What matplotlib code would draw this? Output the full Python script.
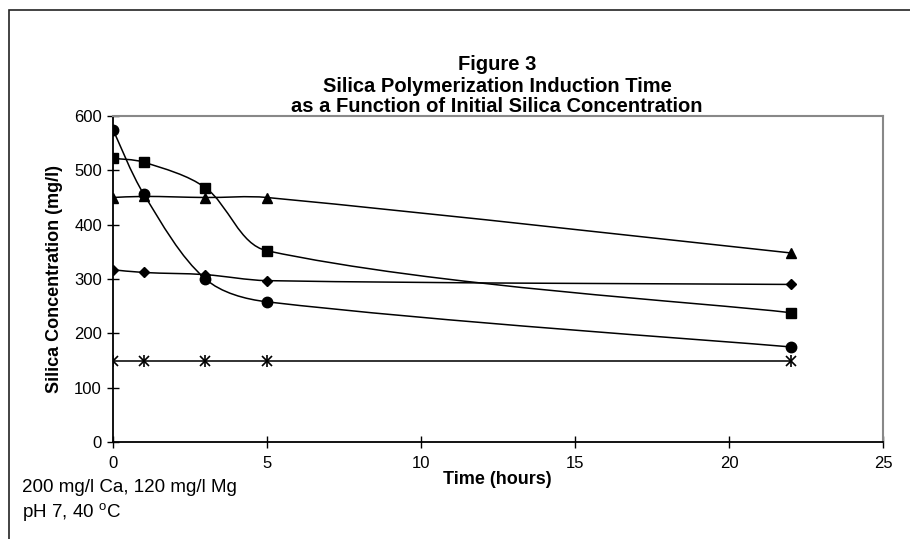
import numpy as np
import matplotlib.pyplot as plt
from matplotlib.path import Path
from matplotlib.patches import PathPatch, Rectangle

plt.rcParams['font.family'] = ['Liberation Sans', 'DejaVu Sans']

# --- data ---
time_h = [0, 1, 3, 5, 22]
conc_circle = [575, 456, 300, 258, 175]
conc_square = [522, 515, 468, 352, 238]
conc_triangle = [450, 452, 450, 450, 348]
conc_diamond = [317, 312, 308, 297, 290]
conc_star = [150, 150, 150, 150, 150]

x_ticks = [0, 5, 10, 15, 20, 25]
y_ticks = [0, 100, 200, 300, 400, 500, 600]

title_lines = ['Figure 3',
               'Silica Polymerization Induction Time',
               'as a Function of Initial Silica Concentration']

W, H = 910, 539
left, right, top, bottom = 113, 883, 116, 442
# pixels per data unit, used so the smoothing works in screen space like Excel
SX = (right - left) / 25.0
SY = (bottom - top) / 600.0


def smooth_path(x, y):
    # smoothed line: cubic beziers, arm lengths scaled by neighbouring segment lengths
    p = np.column_stack([np.asarray(x) * SX, np.asarray(y) * SY]).astype(float)
    n = len(p)
    seg = np.hypot(*np.diff(p, axis=0).T)
    verts = [p[0]]
    codes = [Path.MOVETO]
    for i in range(n - 1):
        # control point leaving p[i]
        if i == 0:
            t = p[1] - p[0]
            c1 = p[0] + t / 6.0
        else:
            t = p[i + 1] - p[i - 1]
            arm = seg[i] / (seg[i - 1] + seg[i]) * np.hypot(*t) / 3.0
            c1 = p[i] + t / np.hypot(*t) * arm
        # control point arriving at p[i+1]
        if i + 1 == n - 1:
            t = p[i + 1] - p[i]
            c2 = p[i + 1] - t / 6.0
        else:
            t = p[i + 2] - p[i]
            arm = seg[i] / (seg[i] + seg[i + 1]) * np.hypot(*t) / 3.0
            c2 = p[i + 1] - t / np.hypot(*t) * arm
        verts += [c1, c2, p[i + 1]]
        codes += [Path.CURVE4] * 3
    verts = np.array(verts) / [SX, SY]
    return Path(verts, codes)


fig = plt.figure(figsize=(W / 100, H / 100), dpi=100)

# outer chart border
fig.patches.append(Rectangle((9 / W, -0.01), 1.0, 1 - 10 / H + 0.01,
                             transform=fig.transFigure, fill=False,
                             edgecolor='#222222', linewidth=1.2))

ax = fig.add_axes([left / W, 1 - bottom / H, (right - left) / W, (bottom - top) / H])

series = [
    (conc_circle, 'o', 7.5),
    (conc_square, 's', 7),
    (conc_triangle, '^', 7.5),
    (conc_diamond, 'D', 5.5),
]
for vals, mk, ms in series:
    ax.add_patch(PathPatch(smooth_path(time_h, vals), fill=False,
                           edgecolor='black', linewidth=1.1, zorder=2))
    ax.plot(time_h, vals, linestyle='none', marker=mk, markersize=ms,
            color='black', zorder=3)

ax.plot(time_h, conc_star, color='#222222', linewidth=1.3, zorder=2)
ax.plot(time_h, conc_star, linestyle='none', marker='x', markersize=7,
        markeredgewidth=1.2, color='black', zorder=3)
ax.plot(time_h, conc_star, linestyle='none', marker='|', markersize=8.5,
        markeredgewidth=1.2, color='black', zorder=3)

ax.set_xlim(0, 25)
ax.set_ylim(0, 600)
ax.set_xticks(x_ticks)
ax.set_yticks(y_ticks)
ax.tick_params(direction='inout', length=8, width=1, labelsize=12, pad=4)
ax.tick_params(axis='x', pad=6)
for s in ['left', 'bottom']:
    ax.spines[s].set_color('black')
    ax.spines[s].set_linewidth(1.3)
for s in ['top', 'right']:
    ax.spines[s].set_color('#888888')
    ax.spines[s].set_linewidth(1.5)

ax.set_ylabel('Silica Concentration (mg/l)', fontsize=13, fontweight='bold', labelpad=8)
fig.text(497 / W, 1 - 479 / H, 'Time (hours)', fontsize=13, fontweight='bold',
         ha='center', va='center')

for line, ypix in zip(title_lines, [65, 86, 106]):
    fig.text(497 / W, 1 - ypix / H, line, fontsize=14.5, fontweight='bold',
             ha='center', va='center')

fig.text(22 / W, 1 - 488 / H, '200 mg/l Ca, 120 mg/l Mg', fontsize=13.5, va='center')
fig.text(22 / W, 1 - 513 / H, 'pH 7, 40 $^\\mathregular{o}$C', fontsize=13.5, va='center')

fig.savefig('out.png', dpi=100)
